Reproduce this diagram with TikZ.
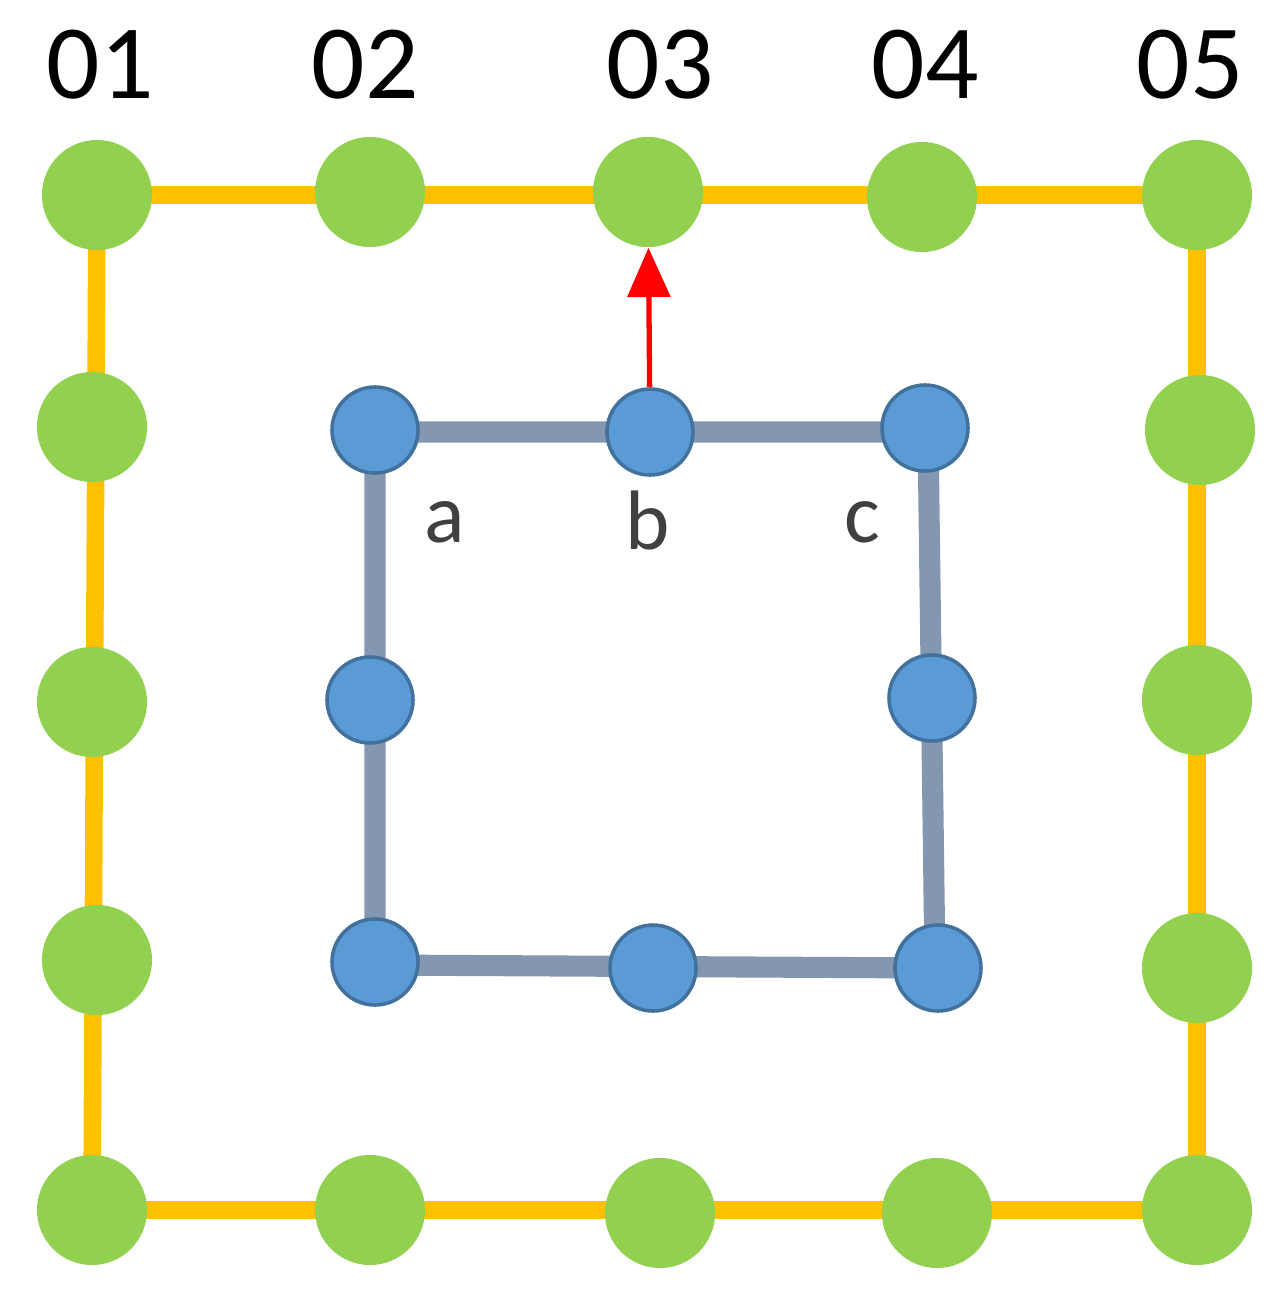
\documentclass[tikz,border=0pt]{standalone}
\usetikzlibrary{arrows.meta}
\usepackage{fontspec}
\setmainfont{Carlito}
\begin{document}
\begin{tikzpicture}[x=0.01cm,y=-0.01cm,
  gnode/.style={circle,fill={rgb,255:red,146;green,208;blue,80},minimum size=1.1cm,inner sep=0},
  bnode/.style={circle,fill={rgb,255:red,91;green,155;blue,213},draw={rgb,255:red,65;green,113;blue,156},line width=1pt,minimum size=0.86cm,inner sep=0},
  oline/.style={draw={rgb,255:red,255;green,192;blue,0},line width=5pt},
  bline/.style={draw={rgb,255:red,132;green,151;blue,176},line width=6pt},
  lab/.style={font=\fontsize{30}{32}\selectfont},
  sm/.style={font=\fontsize{24}{26}\selectfont,text={rgb,255:red,64;green,64;blue,64}}]
\useasboundingbox (0,0) rectangle (1288,1306);
\draw[oline] (97,195) -- (1197,195) -- (1197,1210) -- (92,1210) -- cycle;
\draw[bline] (375,432) -- (928,432) -- (935,968) -- (375,965) -- cycle;
\foreach \n/\x/\y in {g1/97/195,g2/370/192,g3/648/192,g4/922/197,g5/1197/195,
  l1/92/427,l2/92/702,l3/97/960,l4/92/1210,r1/1200/430,r2/1197/700,r3/1197/968,r4/1197/1210,
  d1/370/1210,d2/660/1213,d3/937/1213}
  \node[gnode] (\n) at (\x,\y) {};
\foreach \n/\x/\y in {b1/375/430,b2/650/432,b3/925/428,b4/370/700,b5/932/698,b6/375/962,b7/653/968,b8/938/968}
  \node[bnode] (\n) at (\x,\y) {};
\draw[red,line width=1.5pt,-{Triangle[length=14pt,width=12pt]}] (b2) -- (g3);
\foreach \t/\x in {01/100,02/365,03/660,04/925,05/1190}
  \node[lab] (t\t) at (\x,65) {\t};
\node[sm] (la) at (445,522) {a};
\node[sm] (lb) at (648,520) {b};
\node[sm] (lc) at (862,522) {c};
\end{tikzpicture}
\end{document}
